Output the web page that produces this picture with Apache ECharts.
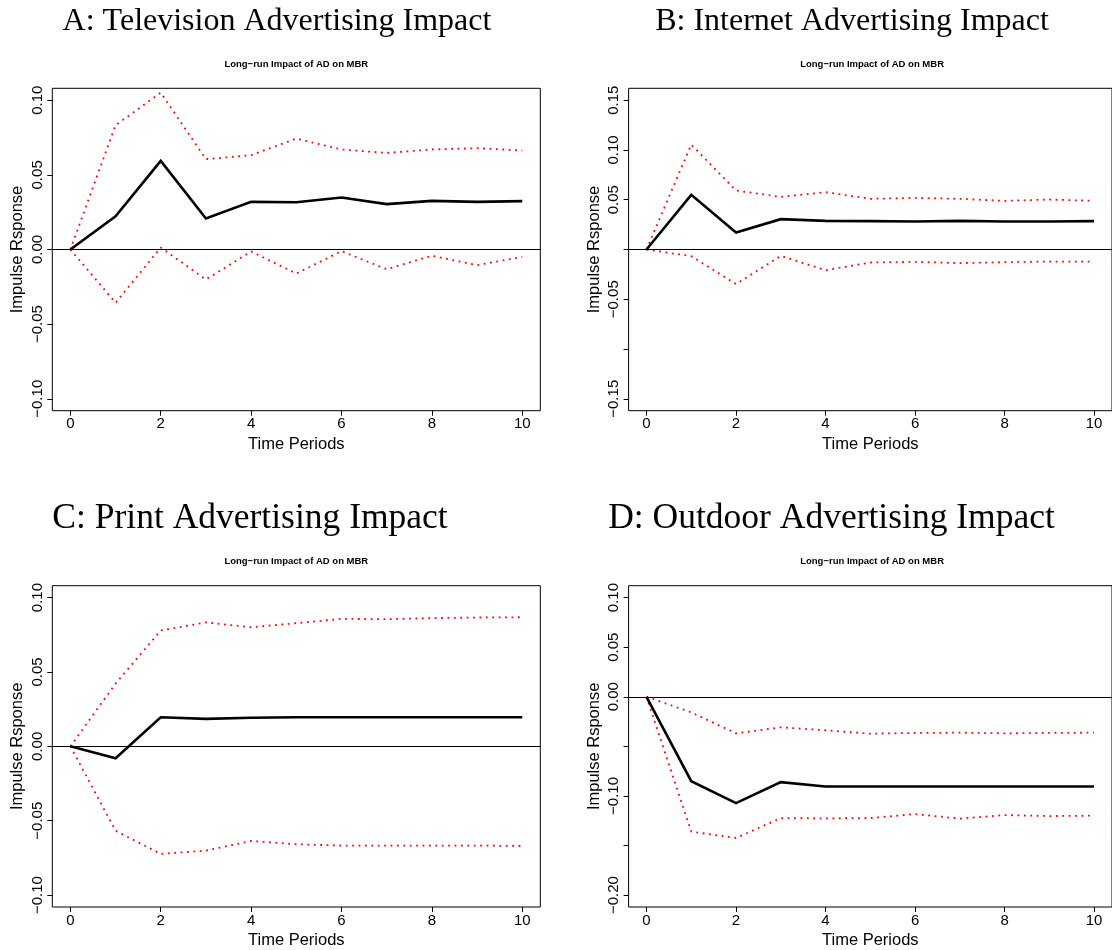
<!DOCTYPE html>
<html>
<head>
<meta charset="utf-8">
<script src="https://cdn.jsdelivr.net/npm/echarts@6.0.0/dist/echarts.min.js"></script>
<style>
html,body{margin:0;padding:0;background:#fff;}
#chart{width:1112px;height:950px;}
</style>
</head>
<body>
<div id="chart"></div>
<script>
// ---- data ----
const periods = [0, 1, 2, 3, 4, 5, 6, 7, 8, 9, 10];

const tvIrf    = [0, 0.0223, 0.0594, 0.0208, 0.0319, 0.0317, 0.0348, 0.0304, 0.0326, 0.0319, 0.0324];
const tvUpper  = [0, 0.0833, 0.1051, 0.0605, 0.0632, 0.0743, 0.0670, 0.0647, 0.0670, 0.0679, 0.0663];
const tvLower  = [0, -0.0357, 0.0013, -0.0201, -0.0013, -0.0161, -0.0011, -0.0132, -0.0042, -0.0105, -0.0049];

const netIrf   = [0, 0.0549, 0.0171, 0.0305, 0.0288, 0.0285, 0.0281, 0.0288, 0.0281, 0.0281, 0.0285];
const netUpper = [0, 0.1055, 0.0593, 0.0529, 0.0576, 0.0509, 0.0519, 0.0509, 0.0489, 0.0502, 0.0489];
const netLower = [0, -0.0067, -0.0348, -0.0064, -0.0208, -0.0131, -0.0124, -0.0137, -0.0127, -0.0121, -0.0121];

const printIrf   = [0, -0.0080, 0.0196, 0.0185, 0.0192, 0.0196, 0.0196, 0.0196, 0.0196, 0.0196, 0.0196];
const printUpper = [0, 0.0422, 0.0779, 0.0833, 0.0801, 0.0828, 0.0857, 0.0855, 0.0862, 0.0866, 0.0868];
const printLower = [0, -0.0567, -0.0723, -0.0701, -0.0636, -0.0658, -0.0667, -0.0667, -0.0667, -0.0667, -0.0670];

const outIrf   = [0, -0.0851, -0.1072, -0.0861, -0.0905, -0.0905, -0.0905, -0.0905, -0.0905, -0.0905, -0.0905];
const outUpper = [0, -0.0157, -0.0369, -0.0308, -0.0338, -0.0372, -0.0365, -0.0362, -0.0369, -0.0365, -0.0362];
const outLower = [0, -0.1360, -0.1424, -0.1223, -0.1226, -0.1223, -0.1183, -0.1229, -0.1193, -0.1203, -0.1199];

const panelTitles = [
  'A: Television Advertising Impact',
  'B: Internet Advertising Impact',
  'C: Print Advertising Impact',
  'D: Outdoor Advertising Impact'
];
const subTitle = 'Long\u2212run Impact of AD on MBR';
const xAxisName = 'Time Periods';
const yAxisName = 'Impulse Rsponse';

const xTicks = [0, 2, 4, 6, 8, 10];
const yTicksA = [-0.10, -0.05, 0, 0.05, 0.10];
const yLabelsA = [-0.10, -0.05, 0, 0.05, 0.10];
const yTicksB = [-0.15, -0.10, -0.05, 0, 0.05, 0.10, 0.15];
const yLabelsB = [-0.15, -0.05, 0.05, 0.10, 0.15];
const yTicksC = [-0.10, -0.05, 0, 0.05, 0.10];
const yLabelsC = [-0.10, -0.05, 0, 0.05, 0.10];
const yTicksD = [-0.20, -0.15, -0.10, -0.05, 0, 0.05, 0.10];
const yLabelsD = [-0.20, -0.10, 0, 0.05, 0.10];

// ---- layout / style ----
const panels = [
  { irf: tvIrf, up: tvUpper, lo: tvLower, ticks: yTicksA, labels: yLabelsA, ymin: -0.108, ymax: 0.108,
    grid: { left: 52.3, top: 88.3, width: 488, height: 322.4 }, titleX: 277, titleY: 22, titleSize: 32, subY: 64 },
  { irf: netIrf, up: netUpper, lo: netLower, ticks: yTicksB, labels: yLabelsB, ymin: -0.162, ymax: 0.162,
    grid: { left: 628.6, top: 88.3, width: 487, height: 322.4 }, titleX: 852, titleY: 22, titleSize: 32, subY: 64 },
  { irf: printIrf, up: printUpper, lo: printLower, ticks: yTicksC, labels: yLabelsC, ymin: -0.108, ymax: 0.108,
    grid: { left: 52.3, top: 585.7, width: 488, height: 322.6 }, titleX: 250, titleY: 518.5, titleSize: 35.5, subY: 561.5 },
  { irf: outIrf, up: outUpper, lo: outLower, ticks: yTicksD, labels: yLabelsD, ymin: -0.212, ymax: 0.112,
    grid: { left: 628.6, top: 585.7, width: 487, height: 322.6 }, titleX: 831.5, titleY: 518.5, titleSize: 35.5, subY: 561.5 }
];

const sans = '"Liberation Sans", Arial, Helvetica, sans-serif';
const serif = '"Liberation Serif", "Times New Roman", serif';
const fmt = v => {
  const a = Math.abs(v).toFixed(2);
  return (v < -1e-9 ? '\u2212' : '') + a;
};

const grids = [], xAxes = [], yAxes = [], series = [], graphics = [];
panels.forEach((p, i) => {
  grids.push(Object.assign({ show: true, borderColor: '#000', borderWidth: 1, backgroundColor: 'transparent' }, p.grid));
  xAxes.push({
    type: 'value', gridIndex: i, min: -0.4, max: 10.4, position: 'bottom',
    name: xAxisName, nameLocation: 'middle', nameGap: 25,
    nameTextStyle: { fontFamily: sans, fontSize: 16.5, color: '#000' },
    axisLine: { show: false, onZero: false },
    splitLine: { show: false },
    axisTick: { show: true, inside: false, length: 5, customValues: xTicks, lineStyle: { color: '#000', width: 1 } },
    axisLabel: { show: true, customValues: xTicks, margin: 6, fontFamily: sans, fontSize: 15, color: '#000',
      formatter: v => String(v) }
  });
  yAxes.push({
    type: 'value', gridIndex: i, min: p.ymin, max: p.ymax, position: 'left',
    name: yAxisName, nameLocation: 'middle', nameGap: 26, nameRotate: 90,
    nameTextStyle: { fontFamily: sans, fontSize: 16.5, color: '#000' },
    axisLine: { show: false, onZero: false },
    splitLine: { show: false },
    axisTick: { show: true, inside: false, length: 5, customValues: p.ticks, lineStyle: { color: '#000', width: 1 } },
    axisLabel: { show: true, customValues: p.labels, rotate: 90, margin: 7, fontFamily: sans, fontSize: 15, color: '#000',
      formatter: fmt }
  });
  const mk = arr => periods.map((t, k) => [t, arr[k]]);
  series.push({
    type: 'line', xAxisIndex: i, yAxisIndex: i, data: mk(p.irf), symbol: 'none', silent: true, z: 3,
    lineStyle: { color: '#000', width: 2.6, join: 'miter' }, animation: false,
    markLine: { silent: true, symbol: 'none', animation: false, label: { show: false },
      lineStyle: { color: '#000', width: 1, type: 'solid' }, data: [{ yAxis: 0 }] }
  });
  [p.up, p.lo].forEach(b => series.push({
    type: 'line', xAxisIndex: i, yAxisIndex: i, data: mk(b), symbol: 'none', silent: true, z: 2,
    lineStyle: { color: '#ff0000', width: 1.8, type: [1.8, 4.6] }, animation: false
  }));
  graphics.push({
    type: 'text', x: p.titleX, y: p.titleY, silent: true,
    style: { text: panelTitles[i], font: p.titleSize + 'px ' + serif, fill: '#000', textAlign: 'center', textVerticalAlign: 'middle' }
  });
  graphics.push({
    type: 'text', x: p.grid.left + p.grid.width / 2, y: p.subY, silent: true,
    style: { text: subTitle, font: 'bold 9.5px ' + sans, fill: '#000', textAlign: 'center', textVerticalAlign: 'middle' }
  });
});

const chart = echarts.init(document.getElementById('chart'), null, { renderer: 'canvas' });
chart.setOption({
  backgroundColor: '#fff',
  animation: false,
  grid: grids,
  xAxis: xAxes,
  yAxis: yAxes,
  series: series,
  graphic: graphics
});
</script>
</body>
</html>
